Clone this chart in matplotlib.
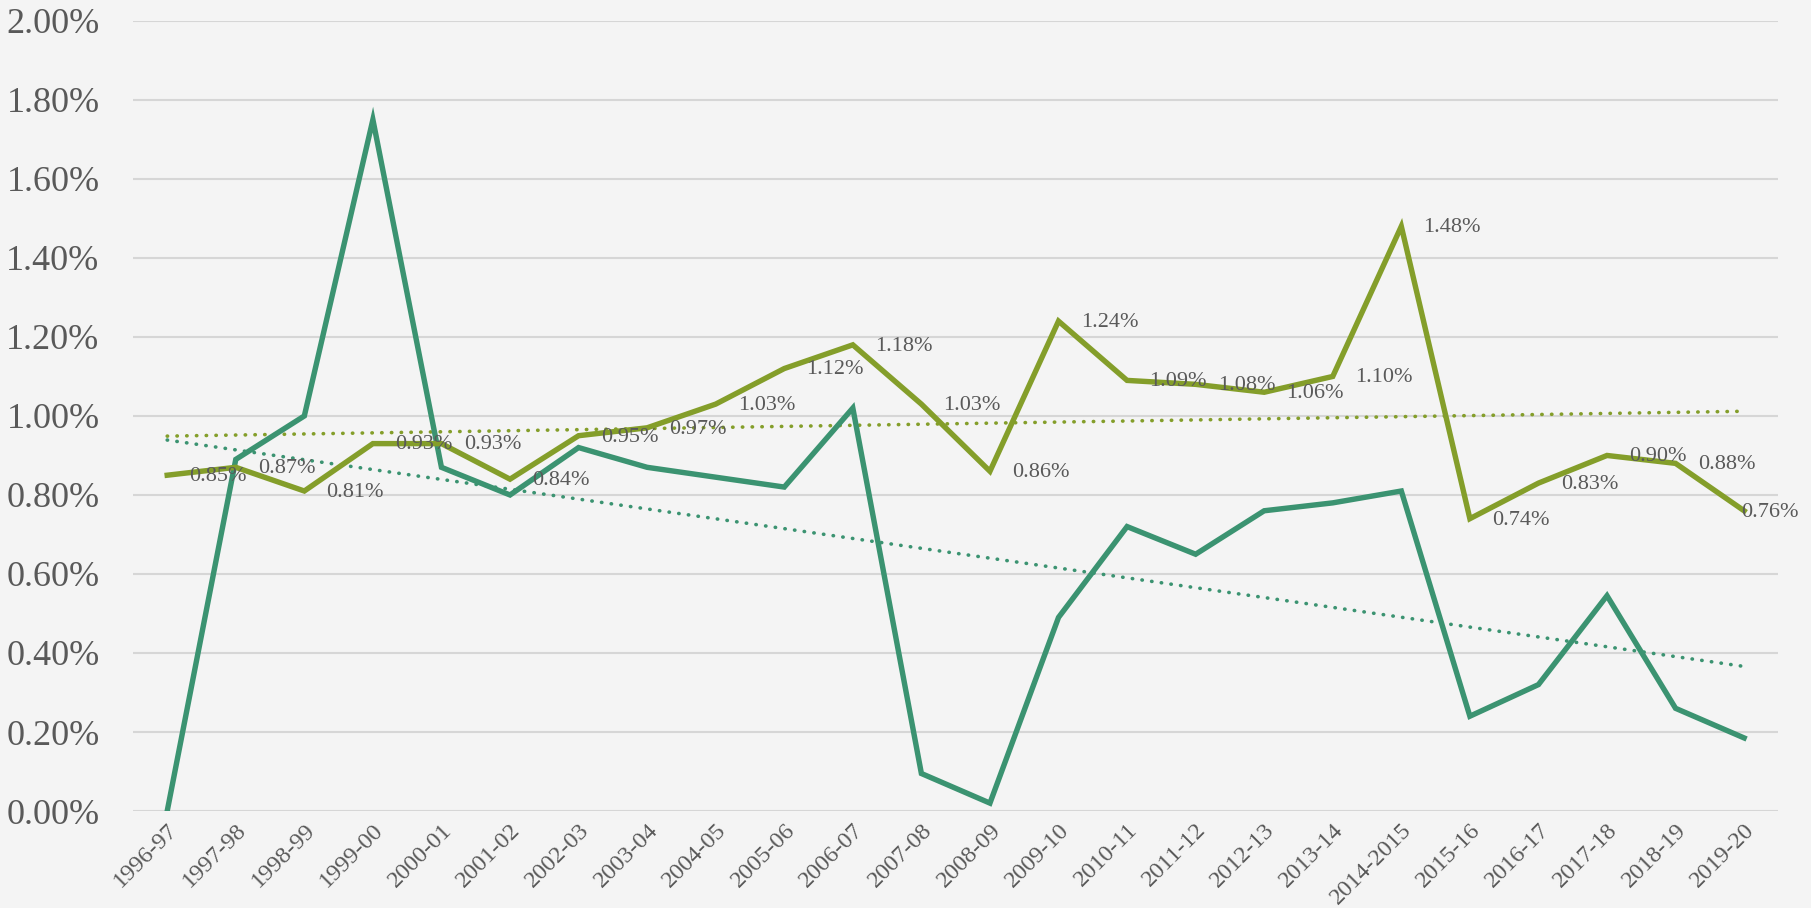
import matplotlib.pyplot as plt
import numpy as np
from matplotlib.ticker import FuncFormatter

years = ["1996-97", "1997-98", "1998-99", "1999-00", "2000-01", "2001-02",
         "2002-03", "2003-04", "2004-05", "2005-06", "2006-07", "2007-08",
         "2008-09", "2009-10", "2010-11", "2011-12", "2012-13", "2013-14",
         "2014-2015", "2015-16", "2016-17", "2017-18", "2018-19", "2019-20"]

# olive series (labelled), values in %
olive = [0.85, 0.87, 0.81, 0.93, 0.93, 0.84, 0.95, 0.97, 1.03, 1.12, 1.18, 1.03,
         0.86, 1.24, 1.09, 1.08, 1.06, 1.10, 1.48, 0.74, 0.83, 0.90, 0.88, 0.76]
# teal series (no labels)
teal = [0.00, 0.89, 1.00, 1.75, 0.87, 0.80, 0.92, 0.87, 0.845, 0.82, 1.02, 0.095,
        0.02, 0.49, 0.72, 0.65, 0.76, 0.78, 0.81, 0.24, 0.32, 0.545, 0.26, 0.185]

olive_c = '#849e2a'
teal_c = '#3b9371'
txt_c = '#595959'

plt.rcParams['font.family'] = ['Liberation Serif', 'DejaVu Serif']

fig = plt.figure(figsize=(18.11, 9.08), dpi=100)
fig.patch.set_facecolor('#f4f4f4')
ax = fig.add_axes([0.0734, 0.1068, 0.9086, 0.8702])
ax.set_facecolor('#f4f4f4')

x = np.arange(len(years))

# trendlines (linear fit)
for vals, c in [(olive, olive_c), (teal, teal_c)]:
    k, b = np.polyfit(x, vals, 1)
    ax.plot(x, k * x + b, color=c, lw=2.6, linestyle=(0, (0.1, 2.6)),
            dash_capstyle='round', zorder=3)

ax.plot(x, teal, color=teal_c, lw=3.9, solid_joinstyle='miter', zorder=4)
ax.plot(x, olive, color=olive_c, lw=3.9, solid_joinstyle='miter', zorder=5)

for xi, v in zip(x, olive):
    # last label is pushed back inside the chart, like excel does
    dx = -2 if xi == x[-1] else 16
    ax.annotate(f"{v:.2f}%", (xi, v), xytext=(dx, -1), textcoords='offset points',
                ha='left', va='center', fontsize=16, color=txt_c, zorder=6)

ax.set_xlim(-0.5, len(years) - 0.5)
ax.set_ylim(0, 2.0)
ax.set_yticks(np.arange(0, 2.01, 0.2))
ax.yaxis.set_major_formatter(FuncFormatter(lambda v, p: f"{v:.2f}%"))
ax.set_xticks(x)
ax.set_xticklabels(years, rotation=45, ha='right', rotation_mode='anchor')

ax.grid(axis='y', color='#d6d6d6', lw=1.5)
ax.set_axisbelow(True)
for s in ax.spines.values():
    s.set_visible(False)
ax.tick_params(axis='y', length=0, pad=24, labelsize=26, labelcolor=txt_c)
ax.tick_params(axis='x', length=0, pad=6, labelsize=17.5, labelcolor=txt_c)

fig.savefig('out.png', dpi=100, facecolor=fig.get_facecolor())
